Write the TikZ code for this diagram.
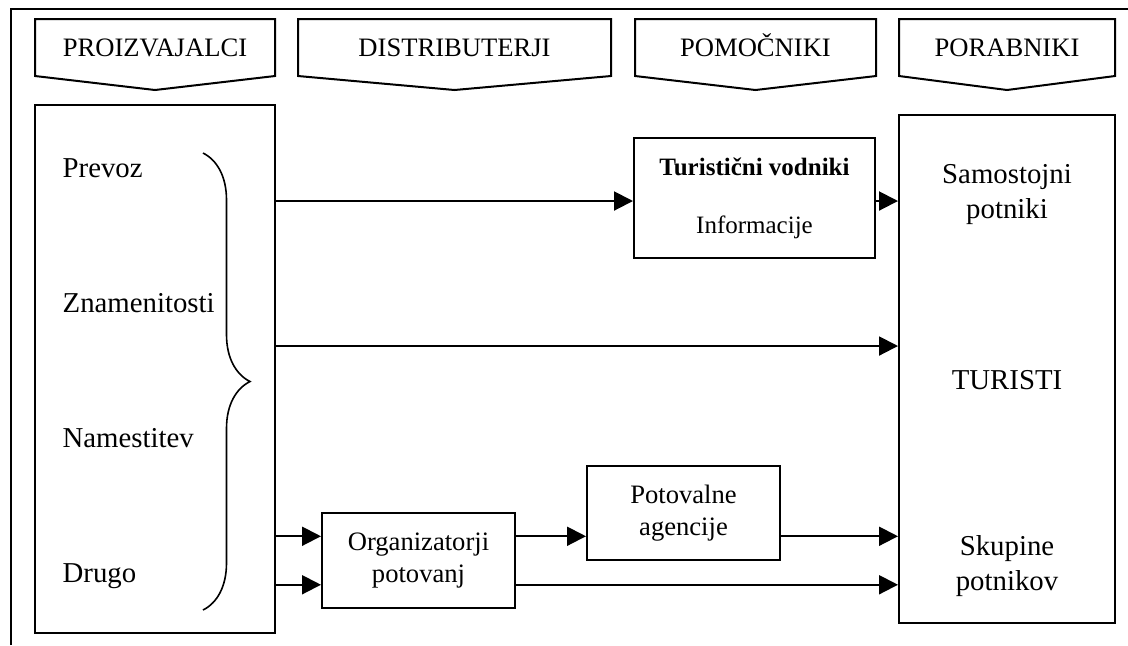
\documentclass[tikz,border=0pt]{standalone}
\usepackage{fontspec}
\setmainfont{Liberation Serif}
\usetikzlibrary{arrows.meta,calc,decorations.pathreplacing}

\begin{document}
\begin{tikzpicture}[x=0.5pt,y=-0.5pt,>={Triangle[length=9.5pt,width=9.5pt]},
                    line width=1pt]
  \tikzstyle{box}=[draw=black,rectangle,inner sep=0pt,align=center,
                   font=\fontsize{13.3}{16}\selectfont]
  \tikzstyle{head}=[font=\fontsize{13.3}{16}\selectfont,anchor=base]
  \tikzstyle{big}=[font=\fontsize{14.4}{17.5}\selectfont,align=center]
  \tikzstyle{flow}=[->,line width=1pt]

  \useasboundingbox (0,0) rectangle (1128,645);
  \draw (11,645) -- (11,9) -- (1128,9);

  % column heads
  \foreach \l/\r/\nm/\txt in {35/275/prod/PROIZVAJALCI,298/611/dist/DISTRIBUTERJI,
                               635/876/help/POMOČNIKI,899/1115/cons/PORABNIKI}
  {
    \draw (\l,19) -- (\r,19) -- (\r,76) -- ({(\l+\r)/2},90) -- (\l,76) -- cycle;
    \node[head] (\nm) at ({(\l+\r)/2},56) {\txt};
  }

  % boxes
  \node[box,minimum width=120pt,minimum height=264pt]  (left)  at (155,369)   {};
  \node[box,minimum width=108pt,minimum height=254pt]  (right) at (1007,369)  {};
  \node[box,minimum width=120.5pt,minimum height=60pt,
        font=\fontsize{12.5}{15}\selectfont]           (guide) at (754.5,198)
        {\textbf{Turistični vodniki}\\[14pt]Informacije};
  \node[box,minimum width=96.5pt,minimum height=47.5pt] (org)  at (418.5,560.5)
        {Organizatorji\\potovanj};
  \node[box,minimum width=96.5pt,minimum height=47pt]   (agen) at (683.5,513)
        {Potovalne\\agencije};

  % left side
  \node[big,anchor=base west] (prevoz) at (55,177) {Prevoz};
  \node[big,anchor=base west] (znam)   at (55,312) {Znamenitosti};
  \node[big,anchor=base west] (nam)    at (55,447) {Namestitev};
  \node[big,anchor=base west] (drugo)  at (55,582) {Drugo};
  \draw[line width=0.8pt,decorate,decoration={brace,amplitude=23.5pt}]
        (203,153) -- (203,610);

  % right side
  \node[big] (samo)  at (1007,195) {Samostojni\\potniki};
  \node[big] (tur)   at (1007,380) {TURISTI};
  \node[big] (skup)  at (1007,566) {Skupine\\potnikov};

  % flows
  \coordinate (orgA) at ($(org.north west)!0.25!(org.south west)$);
  \coordinate (orgB) at ($(org.north west)!0.75!(org.south west)$);
  \coordinate (orgC) at ($(org.north east)!0.25!(org.south east)$);
  \coordinate (orgD) at ($(org.north east)!0.75!(org.south east)$);

  \draw[flow] (left.east |- 0,201)  -- (guide.west |- 0,201);
  \draw[flow] (guide.east |- 0,201) -- (right.west |- 0,201);
  \draw[flow] (left.east |- 0,346)  -- (right.west |- 0,346);
  \draw[flow] (left.east |- orgA)   -- (orgA);
  \draw[flow] (left.east |- orgB)   -- (orgB);
  \draw[flow] (orgC) -- (agen.west |- orgC);
  \draw[flow] (agen.east |- orgC) -- (right.west |- orgC);
  \draw[flow] (orgD) -- (right.west |- orgD);
\end{tikzpicture}
\end{document}
